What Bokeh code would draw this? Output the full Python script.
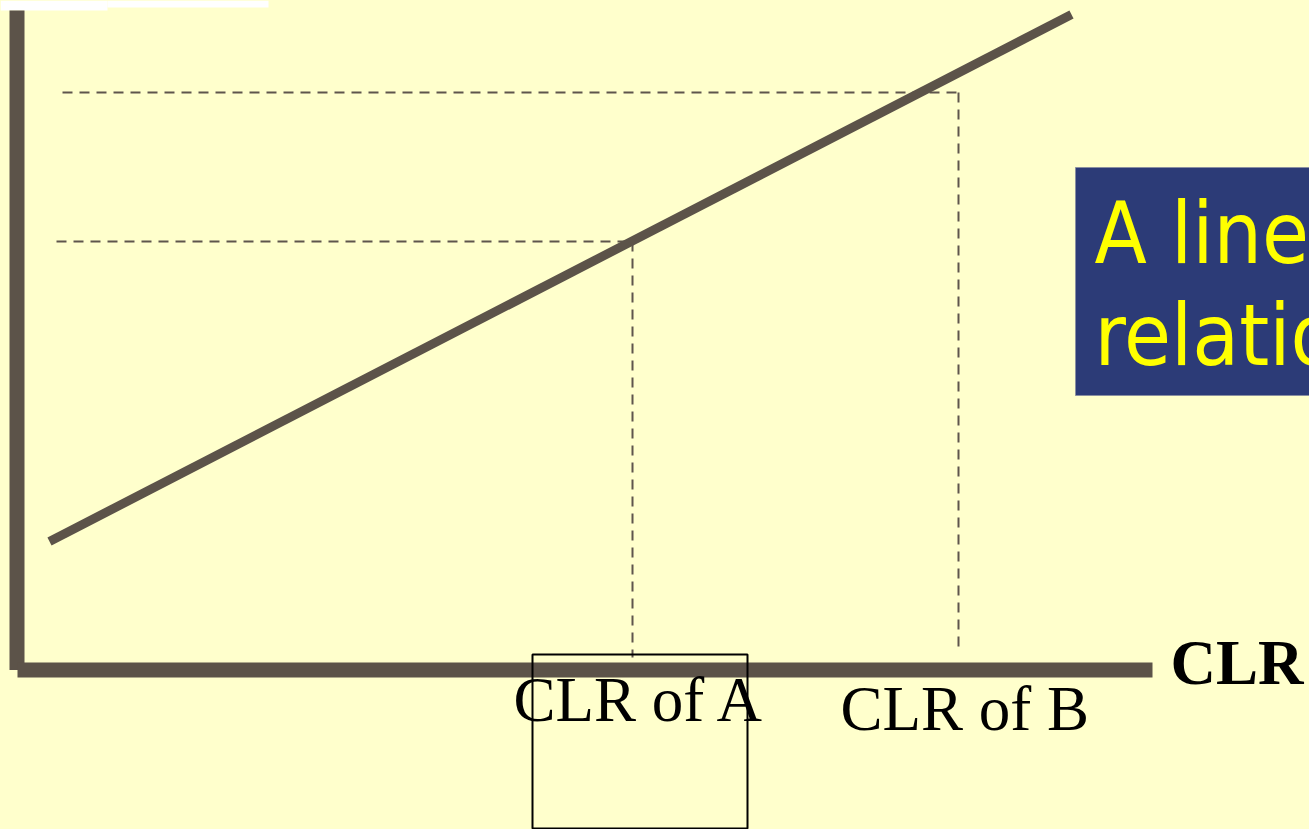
from bokeh.plotting import figure
from bokeh.models import Range1d, ColumnDataSource
from bokeh.core.properties import value
from bokeh.embed import file_html
from bokeh.resources import INLINE

# ---- diagram data (x: CLR scale, y: response scale; y measured upward) ----
H = 829
trend_x = [49, 1071]                 # fitted linear relationship, end points
trend_y = [H - 541, H - 14]
point_labels = ["CLR of A", "CLR of B"]
point_x = [632, 958]                 # CLR of A, CLR of B
point_y = [H - 241, H - 92]          # their responses
guide_start_x = [56, 62]             # where the horizontal guides start
guide_bottom_y = [H - 657, H - 652]  # where the vertical guides stop
label_x = [513, 840]
label_y = [H - 722, H - 731]
origin_x, origin_y = 16.5, H - 669.5
yaxis_top = H - 10
xaxis_end = 1152
axis_title = "CLR"
box_lines = ["A linear", "relationship"]

BG = "#FFFFCC"
AXIS = "#5C5349"
DASH = "#5E554C"

p = figure(width=1309, height=829, output_backend="svg", toolbar_location=None,
           x_range=Range1d(0, 1309), y_range=Range1d(0, 829), min_border=0)
p.axis.visible = False
p.grid.visible = False
p.outline_line_color = None
p.background_fill_color = BG
p.border_fill_color = BG

# white strip artefact at top-left
p.quad(left=[0, 107], right=[107, 268], top=[H, H], bottom=[H - 10, H - 7],
       fill_color="white", line_color=None)

# axes
p.line([origin_x, origin_x], [origin_y, yaxis_top], line_width=15, line_color=AXIS, line_cap="butt")
p.line([origin_x + 0.5, xaxis_end], [origin_y, origin_y], line_width=15, line_color=AXIS, line_cap="butt")

# guide lines
src = ColumnDataSource(dict(px=point_x, py=point_y, gx=guide_start_x, gb=guide_bottom_y))
p.segment(x0="gx", y0="py", x1="px", y1="py", source=src, line_color=DASH, line_width=2, line_dash="10 7")
p.segment(x0="px", y0="py", x1="px", y1="gb", source=src, line_color=DASH, line_width=2, line_dash="10 7")

# the linear relationship
p.line(trend_x, trend_y, line_width=9, line_color=AXIS, line_cap="butt")

# labels
p.text(x=label_x, y=label_y, text=point_labels, text_font=value("Liberation Serif"),
       text_font_size="63px", text_color="black", text_baseline="alphabetic", text_align="left",
       y_offset=-23)
p.text(x=[1170], y=[H - 685], text=[axis_title], text_font=value("Liberation Serif"),
       text_font_size="63px", text_font_style="bold", text_color="black",
       text_baseline="alphabetic", text_align="left", y_offset=-23)

# outlined rectangle around CLR of A
p.quad(left=[532], right=[747], top=[H - 654], bottom=[H - 828], fill_color=None,
       line_color="black", line_width=2)

# call-out box
p.quad(left=[1075], right=[1420], top=[H - 167], bottom=[H - 395], fill_color="#2C3B77",
       line_color="#8A8FA0", line_width=1)
p.text(x=[1094, 1094], y=[H - 263, H - 365], text=box_lines,
       text_font=value("DejaVu Sans Condensed"), text_font_size="85px", text_color="#FFFF00",
       text_baseline="alphabetic", text_align="left", y_offset=-30)

html = file_html(p, INLINE)
html = html.replace("<head>", "<head><style>html,body{background:#FFFFCC;margin:0;overflow:hidden;}</style>", 1)
open("out.html", "w").write(html)
